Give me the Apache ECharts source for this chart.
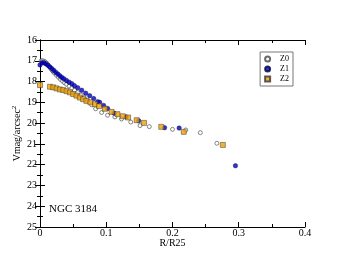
<!DOCTYPE html>
<html><head><meta charset="utf-8">
<script src="https://cdn.jsdelivr.net/npm/echarts@6/dist/echarts.min.js"></script>
<style>html,body{margin:0;padding:0;background:#fff}#c{width:344px;height:266px}</style>
</head><body><div id="c"></div>
<script>
const z0R = [0.002,0.004,0.006,0.008,0.010,0.012,0.014,0.016,0.018,0.020,0.022,0.025,0.028,0.031,0.034,0.037,0.040,0.044,0.048,0.052,0.057,0.062,0.067,0.072,0.078,0.084,0.093,0.102,0.113,0.123,0.137,0.151,0.165,0.200,0.220,0.242,0.267];
const z0V = [17.00,17.00,17.02,17.06,17.12,17.20,17.28,17.36,17.45,17.53,17.60,17.70,17.80,17.90,17.98,18.06,18.13,18.22,18.32,18.42,18.53,18.65,18.78,18.92,19.12,19.31,19.49,19.62,19.70,19.80,19.95,20.12,20.17,20.30,20.33,20.46,20.97];
const z1R = [0.000,0.003,0.006,0.009,0.012,0.015,0.018,0.021,0.024,0.027,0.030,0.033,0.036,0.040,0.044,0.048,0.052,0.057,0.063,0.069,0.075,0.081,0.087,0.090,0.096,0.102,0.112,0.130,0.149,0.188,0.210,0.295];
const z1V = [17.20,17.10,17.10,17.15,17.22,17.30,17.38,17.47,17.56,17.64,17.72,17.80,17.87,17.95,18.03,18.10,18.20,18.30,18.42,18.56,18.68,18.82,18.97,19.00,19.15,19.30,19.52,19.70,19.89,20.22,20.24,22.05];
const z2R = [0.000,0.015,0.020,0.025,0.030,0.035,0.040,0.045,0.050,0.055,0.060,0.065,0.070,0.076,0.083,0.089,0.098,0.108,0.117,0.125,0.133,0.146,0.157,0.183,0.217,0.276];
const z2V = [18.17,18.25,18.28,18.33,18.38,18.41,18.46,18.52,18.60,18.68,18.77,18.85,18.93,19.00,19.09,19.18,19.31,19.46,19.57,19.67,19.73,19.86,19.99,20.18,20.42,21.05];
const names = ['Z0','Z1','Z2'];
const label = 'NGC 3184';
const xTitle = 'R/R25';
const yTitle = 'Vmag/arcsec';

const pair = (a,b)=>a.map((v,i)=>[v,b[i]]);
const serif = '"Liberation Serif","DejaVu Serif",serif';
const ch = echarts.init(document.getElementById('c'));
const axLine = {show:true,lineStyle:{color:'#000',width:1}};
const tickIn = {show:true,inside:true,length:5,lineStyle:{color:'#000'}};
const minorIn = {show:true,inside:true,length:3,splitNumber:2,lineStyle:{color:'#000'}};
ch.setOption({
  animation:false,
  grid:{left:40,right:39,top:40,bottom:39},
  legend:{
    data:names, orient:'vertical', right:51, top:52,
    itemWidth:5, itemHeight:5, itemGap:2,
    borderColor:'#777', borderWidth:1, padding:[3,4,3,4],
    textStyle:{fontFamily:serif,fontSize:8,color:'#000',padding:[0,0,0,5]}
  },
  xAxis:[
    {type:'value',min:0,max:0.4,interval:0.1,position:'bottom',
     axisLine:axLine,axisTick:tickIn,minorTick:minorIn,splitLine:{show:false},
     axisLabel:{fontFamily:serif,fontSize:10,color:'#000',margin:1,formatter:v=>v===0?'0':String(+v.toFixed(1))},
     name:xTitle,nameLocation:'middle',nameGap:11,nameMoveOverlap:false,
     nameTextStyle:{fontFamily:serif,fontSize:10,color:'#000',verticalAlign:'top'}},
    {type:'value',min:0,max:0.4,interval:0.1,position:'top',
     axisLine:axLine,axisTick:tickIn,minorTick:minorIn,splitLine:{show:false},axisLabel:{show:false}}
  ],
  yAxis:[
    {type:'value',min:16,max:25,interval:1,inverse:true,position:'left',
     axisLine:axLine,axisTick:tickIn,minorTick:minorIn,splitLine:{show:false},
     axisLabel:{fontFamily:serif,fontSize:10,color:'#000',margin:3},
     name:yTitle+'{s|2}',nameLocation:'middle',nameGap:16,nameRotate:90,nameMoveOverlap:false,
     nameTextStyle:{fontFamily:serif,fontSize:10,color:'#000',rich:{s:{fontFamily:serif,fontSize:7,verticalAlign:'top',padding:[0,0,6,0]}}}},
    {type:'value',min:16,max:25,interval:1,inverse:true,position:'right',
     axisLine:axLine,axisTick:tickIn,minorTick:minorIn,splitLine:{show:false},axisLabel:{show:false}}
  ],
  graphic:[{type:'text',left:49,top:204,style:{text:label,font:'11px '+serif,fill:'#000'}}],
  series:[
    {name:'Z0',type:'scatter',data:pair(z0R,z0V),symbol:'circle',symbolSize:4,
     itemStyle:{color:'#fff',borderColor:'#444',borderWidth:0.8},z:3},
    {name:'Z1',type:'scatter',data:pair(z1R,z1V),symbol:'circle',symbolSize:4.5,
     itemStyle:{color:'#0000c8',borderColor:'#000040',borderWidth:0.5},z:4},
    {name:'Z2',type:'scatter',data:pair(z2R,z2V),symbol:'rect',symbolSize:5,
     itemStyle:{color:'#f0a000',borderColor:'#333',borderWidth:0.6},z:5}
  ]
});
</script></body></html>
